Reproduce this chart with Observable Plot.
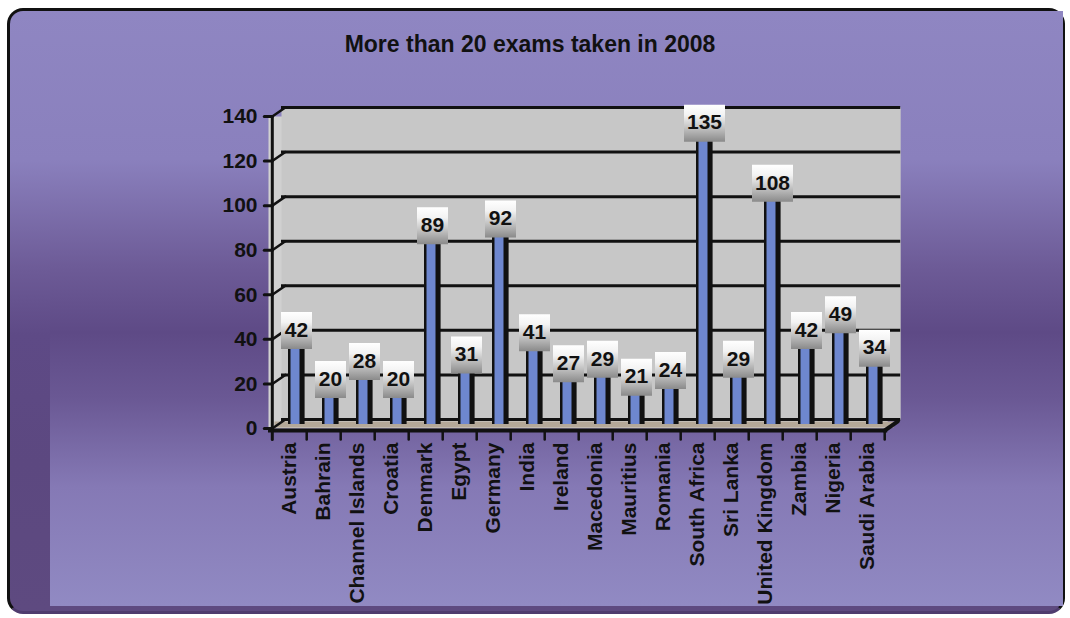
<!DOCTYPE html>
<html>
<head>
<meta charset="utf-8">
<script src="https://cdn.jsdelivr.net/npm/d3@7"></script>
<script src="https://cdn.jsdelivr.net/npm/@observablehq/plot@0.6"></script>
<style>
  html, body { margin: 0; padding: 0; background: #ffffff; }
  #page { position: relative; width: 1070px; height: 618px; overflow: hidden; background: #ffffff; }
  #outer {
    position: absolute; left: 7px; top: 8px; width: 1052px; height: 600px;
    border: 3px solid #111; border-bottom-color: #4f3c6e;
    border-radius: 16px;
    background: linear-gradient(to bottom, #8f86c2 0%, #8a80bd 25%, #6d5b97 43%, #5e4a86 54%, #5c4880 75%, #5e4a80 100%);
  }
  #inner {
    position: absolute; left: 50px; top: 11px; width: 1013px; height: 595px;
    background: linear-gradient(to bottom, #8f86c2 0%, #8a80bd 25%, #6d5b97 43%, #5e4a86 54%, #6a5894 65%, #8579b5 80%, #918ac3 100%);
  }
  #title {
    position: absolute; left: 0; width: 1060px; top: 32px; text-align: center;
    font-family: "Liberation Sans", Arial, sans-serif; font-weight: bold; font-size: 23px;
    line-height: 25px; color: #111;
  }
  #chart { position: absolute; left: 0; top: 0; }
</style>
</head>
<body>
<div id="page">
  <div id="outer"></div>
  <div id="inner"></div>
  <div id="title">More than 20 exams taken in 2008</div>
  <div id="chart"></div>
</div>
<script>
const categories = ["Austria","Bahrain","Channel Islands","Croatia","Denmark","Egypt","Germany","India","Ireland","Macedonia","Mauritius","Romania","South Africa","Sri Lanka","United Kingdom","Zambia","Nigeria","Saudi Arabia"];
const values = [42,20,28,20,89,31,92,41,27,29,21,24,135,29,108,42,49,34];
const yTicks = [0,20,40,60,80,100,120,140];

const data = categories.map((c, i) => ({country: c, value: values[i]}));
const first = categories[0];
const last = categories[categories.length - 1];
const half = 619.2 / categories.length / 2;

const lineShape = {draw(context, l) { context.moveTo(0, 0); context.lineTo(0, -l); }};
const boxSmall = {draw(context) { context.rect(-15.5, -23, 31, 37); }};
const boxLarge = {draw(context) { context.rect(-20.5, -23, 41, 37); }};

const svg = Plot.plot({
  width: 1070,
  height: 618,
  marginTop: 116,
  marginBottom: 190,
  marginLeft: 268,
  marginRight: 182.8,
  style: {
    background: "transparent",
    fontFamily: "'Liberation Sans', Arial, sans-serif",
    fontSize: "21px",
    fontWeight: "bold",
    color: "#111"
  },
  x: {type: "band", domain: categories, padding: 0, tickSize: 0, tickPadding: 14, tickRotate: -90, label: null},
  y: {domain: [0, 140], ticks: yTicks, tickSize: 0, tickPadding: 11, label: null},
  marks: [
    Plot.frame({fill: "#d0d0d0", stroke: null}),
    Plot.frame({fill: "#c7c7c7", stroke: null, dx: 13, dy: -9}),
    Plot.ruleY([0], {stroke: "#b4a898", strokeWidth: 6, dx: 6.5, dy: -4}),
    Plot.ruleY(yTicks, {stroke: "#111", strokeWidth: 3, dx: 13, dy: -9}),
    Plot.barY(data, {x: "country", y: "value", fill: "#111", insetLeft: 16, insetRight: 1.4, dy: -4}),
    Plot.barY(data, {x: "country", y: "value", fill: "#6e87cf", insetLeft: 18.5, insetRight: 6.5, dy: -4}),
    Plot.ruleY([0], {stroke: "#111", strokeWidth: 4, dy: 2}),
    Plot.ruleX([first], {y1: 0, y2: 140, dx: -half, stroke: "#111", strokeWidth: 3}),
    Plot.vector(yTicks, {x: () => first, y: d => d, dx: -half, rotate: -90, length: 8, anchor: "start", shape: lineShape, stroke: "#111", strokeWidth: 3}),
    Plot.vector(yTicks, {x: () => first, y: d => d, dx: -half, rotate: 55.3, length: 15.8, anchor: "start", shape: lineShape, stroke: "#111", strokeWidth: 2.5}),
    Plot.vector(categories, {x: d => d, y: () => 0, dx: half, dy: 2, rotate: 180, length: 9, anchor: "start", shape: lineShape, stroke: "#111", strokeWidth: 2.5}),
    Plot.vector([first], {x: d => d, y: () => 0, dx: -half, dy: 2, rotate: 180, length: 9, anchor: "start", shape: lineShape, stroke: "#111", strokeWidth: 3}),
    Plot.vector([last], {x: d => d, y: () => 0, dx: half, dy: 2, rotate: 55.3, length: 16, anchor: "start", shape: lineShape, stroke: "#111", strokeWidth: 4}),
    Plot.dot(data.filter(d => d.value < 100), {x: "country", y: "value", dx: 7, symbol: boxSmall, fill: "url(#boxGrad)", stroke: null}),
    Plot.dot(data.filter(d => d.value >= 100), {x: "country", y: "value", dx: 7, symbol: boxLarge, fill: "url(#boxGrad)", stroke: null}),
    Plot.text(data, {x: "country", y: "value", text: d => String(d.value), dx: 7, dy: -5, fill: "#111", fontSize: 21, fontWeight: "bold"})
  ]
});

const ns = "http://www.w3.org/2000/svg";
const defs = document.createElementNS(ns, "defs");
const grad = document.createElementNS(ns, "linearGradient");
grad.setAttribute("id", "boxGrad");
grad.setAttribute("x1", "0"); grad.setAttribute("y1", "0");
grad.setAttribute("x2", "0"); grad.setAttribute("y2", "1");
[["0", "#ffffff"], ["0.28", "#f3f3f3"], ["0.6", "#c6c6c6"], ["1", "#8a8a8a"]].forEach(([o, c]) => {
  const s = document.createElementNS(ns, "stop");
  s.setAttribute("offset", o);
  s.setAttribute("stop-color", c);
  grad.appendChild(s);
});
defs.appendChild(grad);
svg.insertBefore(defs, svg.firstChild);

document.getElementById("chart").appendChild(svg);
</script>
</body>
</html>
